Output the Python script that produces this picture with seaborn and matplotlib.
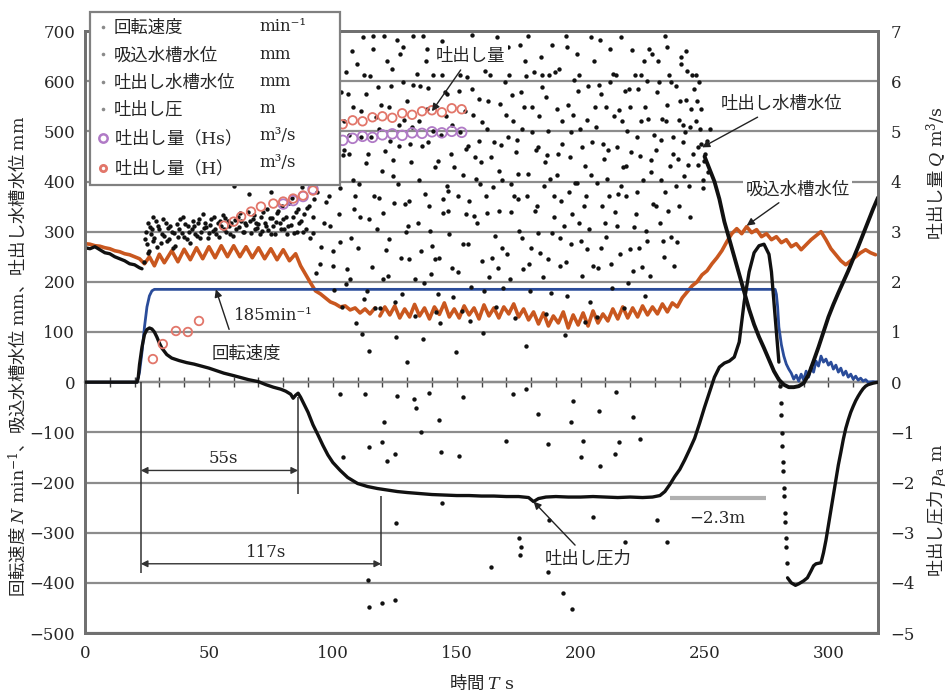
import matplotlib
matplotlib.use("Agg")
import matplotlib.pyplot as plt
from matplotlib.lines import Line2D
import numpy as np
import seaborn as sns

# ---------------------------------------------------------------- data
time_ticks = [0, 50, 100, 150, 200, 250, 300]
left_ticks = list(range(-500, 701, 100))
right_ticks = list(range(-5, 8))

# pump rotation speed N [min^-1]
speed_t = [0, 10, 21, 22, 23, 24, 25, 26, 27, 28,
           60, 120, 180, 240, 278.5,
           279, 279.5, 280, 281, 282, 283, 284, 285,
           286, 287, 288, 289, 290, 291, 292, 293, 294, 295,
           296, 297, 298, 299, 300, 301, 302, 303, 304, 305,
           306, 307, 308, 309, 310, 311, 312, 313, 314, 315,
           316, 318, 320]
speed_rpm = [0, 0, 0, 20, 60, 110, 150, 172, 182, 185,
             185, 185, 185, 185, 185,
             175, 150, 110, 75, 52, 36, 26, 18,
             6, 14, 2, 16, 4, 22, 10, 30, 20, 42,
             32, 52, 40, 46, 34, 40, 26, 34, 20, 28,
             14, 22, 10, 16, 6, 12, 4, 8, 2, 5,
             0, 1, 0]

# suction tank water level [mm]
suction_t_early = [0, 2, 4, 6, 8, 10, 12, 14, 16, 18, 20, 22,
                   24, 26, 28, 30, 32,
                   35, 37.5, 40, 42.5, 45, 47.5, 50, 52.5, 55, 57.5, 60,
                   62.5, 65, 67.5, 70, 72.5, 75, 77.5, 80, 82.5, 85,
                   87, 89, 91, 93, 95, 97, 99, 101, 103, 105, 107, 109,
                   111, 113, 115, 117]
suction_early = [276, 275, 272, 271, 268, 266, 262, 260, 256, 254, 250, 246,
                 236, 250, 232, 255, 238,
                 262, 240, 265, 244, 268, 246, 270, 248, 272, 250, 272,
                 250, 270, 248, 268, 246, 266, 244, 264, 242, 256,
                 232, 215, 198, 182, 176, 168, 160, 156, 150, 152, 144, 148,
                 138, 146, 136, 148]
suction_t_late = np.arange(119, 320, 2)
suction_late = [132, 150, 134, 152, 128, 146, 130, 155, 132, 148,
                126, 150, 135, 158, 130, 146, 128, 152, 134, 148,
                126, 154, 132, 148, 128, 150, 136, 156, 130, 146,
                124, 140, 116, 138, 112, 132, 118, 140, 108, 134,
                114, 138, 112, 142, 118, 136, 122, 146, 126, 150,
                128, 148, 130, 152, 134, 150, 136, 156, 140, 158,
                150, 168, 180, 192, 200, 214, 222, 236, 248, 262,
                280, 296, 306, 296, 310, 298, 304, 290, 296, 284,
                290, 278, 284, 270, 276, 264, 274, 284, 292, 300,
                284, 266, 254, 242, 234, 242, 250, 258, 264, 258,
                254]

# discharge tank water level [mm]
level_start_t = [0, 2, 4, 6, 8, 10, 12, 14, 16, 18, 20, 22, 23]
level_start = [268, 266, 270, 264, 258, 256, 250, 246, 242, 236, 234, 228, 226]

level_band_t = [24, 24.6, 25, 25.6, 26, 26.6, 27, 27.6, 28, 29, 29.6,
                31, 31.6, 33, 33.6, 35, 35.6, 37, 37.6, 39, 39.6,
                41, 41.6, 43, 43.6, 45, 45.6, 47, 47.6, 49, 49.6,
                51, 51.6, 53, 53.6, 55, 55.6, 57, 57.6, 59, 59.6,
                61, 61.6, 63, 63.6, 65, 65.6, 67, 67.6, 69, 69.6,
                71, 71.6, 73, 73.6, 75, 75.6, 77, 77.6, 79, 79.6,
                81, 81.6, 83, 83.6, 85, 85.6, 87, 87.6, 89, 89.6,
                60, 66, 72, 78, 84, 88, 75]
level_band = [240, 300, 275, 318, 262, 296, 305, 330, 288, 270, 312,
              295, 325, 282, 308, 300, 268, 316, 290, 298, 330,
              285, 312, 305, 322, 292, 318, 300, 336, 310, 288,
              326, 302, 296, 318, 312, 334, 300, 322, 318, 292,
              306, 330, 322, 300, 314, 340, 298, 326, 318, 308,
              330, 302, 312, 346, 296, 328, 320, 338, 306, 352,
              330, 296, 314, 368, 340, 300, 322, 390, 305, 348,
              392, 375, 410, 430, 418, 445, 380]
level_band2_t = [24.3, 25.3, 26.3, 27.3, 28.5,
                 30, 30.5, 32, 32.5, 34,
                 34.5, 36, 36.5, 38, 38.5,
                 40, 40.5, 42, 42.5, 44,
                 44.5, 46, 46.5, 48, 48.5,
                 50, 50.5, 52, 52.5, 54,
                 54.5, 56, 56.5, 58, 58.5,
                 60.5, 62, 62.5, 64, 64.5,
                 66.5, 68, 68.5, 70, 70.5,
                 72, 72.5, 74, 74.5, 76,
                 76.5, 78, 78.5, 80, 80.5,
                 82, 82.5, 84, 84.5, 86,
                 86.5, 88, 88.5]
level_band2 = [285, 258, 310, 282, 322,
               305, 278, 292, 318, 286,
               312, 298, 272, 306, 325,
               290, 316, 300, 278, 312,
               296, 326, 288, 308, 318,
               298, 314, 330, 306, 290,
               322, 305, 328, 312, 296,
               324, 310, 338, 300, 318,
               322, 334, 306, 316, 296,
               340, 318, 304, 328, 312,
               296, 342, 318, 326, 306,
               312, 358, 330, 298, 345,
               318, 300, 336]

level_cloud_t = [
    90.4, 91.2, 92.1, 92.9, 93.6, 90.8, 91.9, 93.2,
    94.3, 95.1, 95.8, 96.6, 97.4, 94.9, 96.1, 97.8,
    98.2, 99.0, 99.7, 100.5, 101.3, 98.7, 100.1, 101.8,
    102.4, 103.1, 103.9, 104.6, 105.5, 102.9, 104.2, 105.9,
    106.1, 106.9, 107.6, 108.4, 109.3, 106.5, 108.0, 109.7,
    110.3, 111.2, 111.9, 112.7, 113.5, 110.8, 112.2, 113.9,
    114.2, 115.0, 115.8, 116.5, 117.4, 114.7, 116.1, 117.8,
    118.4, 119.1, 119.9, 120.7, 121.6, 118.8, 120.3, 121.9,
    122.2, 123.0, 123.8, 124.5, 125.4, 122.7, 124.1, 125.8,
    126.3, 127.1, 127.8, 128.6, 129.5, 126.8, 128.2, 129.8,
    130.1, 130.9, 131.7, 132.5, 133.3, 130.6, 132.0, 133.8,
    134.4, 135.2, 135.9, 136.7, 137.5, 134.8, 136.3, 137.9,
    138.2, 139.0, 139.8, 140.6, 141.4, 138.6, 140.1, 141.8,
    142.3, 143.1, 143.9, 144.6, 145.5, 142.8, 144.2, 145.9,
    146.1, 146.9, 147.7, 148.5, 149.3, 146.6, 148.0, 149.7,
    150.4, 151.2, 151.9, 152.7, 153.6, 150.9, 152.3, 153.9,
    154.2, 155.0, 155.8, 156.5, 157.4, 154.7, 156.1, 157.8,
    158.3, 159.1, 159.8, 160.6, 161.5, 158.8, 160.2, 161.9,
    162.1, 162.9, 163.7, 164.5, 165.3, 162.6, 164.0, 165.8,
    166.4, 167.2, 167.9, 168.7, 169.5, 166.9, 168.3, 169.9,
    170.2, 171.0, 171.8, 172.6, 173.4, 170.7, 172.1, 173.8,
    174.3, 175.1, 175.9, 176.6, 177.5, 174.8, 176.2, 177.9,
    178.1, 178.9, 179.7, 180.5, 181.4, 178.6, 180.1, 181.8,
    182.4, 183.2, 183.9, 184.7, 185.6, 182.8, 184.3, 185.9,
    186.2, 187.0, 187.8, 188.5, 189.4, 186.7, 188.1, 189.8,
    190.3, 191.1, 191.8, 192.6, 193.5, 190.8, 192.2, 193.9,
    194.1, 194.9, 195.7, 196.5, 197.3, 194.6, 196.0, 197.8,
    198.4, 199.2, 199.9, 200.7, 201.6, 198.9, 200.3, 201.9,
    202.2, 203.0, 203.8, 204.5, 205.4, 202.7, 204.1, 205.8,
    206.3, 207.1, 207.8, 208.6, 209.5, 206.8, 208.2, 209.8,
    210.1, 210.9, 211.7, 212.5, 213.3, 210.6, 212.0, 213.8,
    214.4, 215.2, 215.9, 216.7, 217.5, 214.8, 216.3, 217.9,
    218.2, 219.0, 219.8, 220.6, 221.4, 218.6, 220.1, 221.8,
    222.3, 223.1, 223.9, 224.6, 225.5, 222.8, 224.2, 225.9,
    226.1, 226.9, 227.7, 228.5, 229.3, 226.6, 228.0, 229.7,
    230.4, 231.2, 231.9, 232.7, 233.6, 230.9, 232.3, 233.9,
    234.2, 235.0, 235.8, 236.5, 237.4, 234.7, 236.1, 237.8,
    238.3, 239.1, 239.8, 240.6, 241.5, 238.8, 240.2, 241.9,
    242.1, 242.9, 243.7, 244.5, 245.3, 242.6, 244.0, 245.8,
    246.4, 247.2, 247.9, 248.7, 249.5, 246.9, 248.3, 249.9,
    250.2, 251.0, 251.6, 252.4]
level_cloud = [
    352, 410, 298, 462, 380, 505, 330, 425,
    520, 270, 445, 610, 360, 236, 488, 398,
    655, 312, 548, 184, 430, 596, 262, 472,
    700, 388, 150, 520, 618, 280, 452, 225,
    575, 205, 660, 345, 118, 492, 402, 635,
    268, 540, 96, 612, 436, 330, 688, 182,
    455, 610, 230, 372, 528, 62, 665, 305,
    588, 148, 420, 690, 264, 505, 338, 640,
    212, 480, 625, 358, 90, 548, 410, 682,
    395, 655, 176, 522, 300, 470, 598, 40,
    560, 245, 438, 690, 132, 362, 508, 615,
    318, 590, 470, 198, 640, 402, 86, 545,
    665, 352, 215, 500, 428, 586, 272, 140,
    440, 118, 612, 338, 530, 248, 680, 392,
    575, 296, 455, 170, 640, 382, 512, 60,
    220, 498, 660, 412, 335, 580, 142, 465,
    608, 362, 190, 532, 448, 276, 692, 405,
    318, 565, 438, 98, 620, 480, 242, 372,
    505, 210, 655, 390, 292, 560, 448, 150,
    688, 342, 472, 188, 598, 420, 268, 532,
    255, 612, 395, 520, 128, 668, 340, 458,
    482, 302, 578, 225, 640, 365, 505, 72,
    610, 415, 182, 548, 342, 690, 268, 462,
    352, 530, 648, 210, 438, 298, 588, 135,
    568, 245, 405, 672, 330, 500, 178, 618,
    412, 625, 288, 520, 95, 455, 362, 690,
    240, 552, 448, 335, 602, 172, 498, 398,
    655, 318, 505, 212, 430, 580, 282, 120,
    372, 590, 160, 478, 640, 265, 412, 548,
    508, 228, 682, 352, 445, 130, 575, 318,
    290, 462, 598, 188, 530, 405, 665, 340,
    612, 375, 255, 520, 148, 468, 392, 580,
    430, 198, 548, 662, 310, 500, 265, 612,
    335, 585, 450, 230, 640, 380, 520, 172,
    548, 282, 665, 418, 355, 600, 212, 492,
    462, 640, 318, 525, 250, 578, 402, 690,
    380, 552, 612, 290, 488, 668, 430, 232,
    590, 445, 352, 635, 512, 280, 560, 410,
    498, 620, 392, 545, 455, 660, 330, 585,
    520, 432, 598, 475, 388, 560, 505, 440,
    455, 480, 418, 505]
level_cloud2_t = [
    90.9, 91.6, 92.5, 93.4, 94.6, 95.4, 96.3, 97.1,
    98.5, 99.4, 100.2, 101.0, 102.6, 103.5, 104.4, 105.2,
    106.7, 107.3, 108.2, 109.0, 110.6, 111.5, 112.4, 113.2,
    114.5, 115.4, 116.3, 117.1, 118.6, 119.5, 120.4, 121.2,
    122.5, 123.4, 124.3, 125.1, 126.6, 127.5, 128.4, 129.2,
    130.4, 131.3, 132.2, 133.0, 134.6, 135.5, 136.4, 137.2,
    138.5, 139.4, 140.3, 141.1, 142.6, 143.5, 144.4, 145.2,
    146.4, 147.3, 148.2, 149.0, 150.6, 151.5, 152.4, 153.2,
    154.5, 155.4, 156.3, 157.1, 158.6, 159.5, 160.4, 161.2,
    162.4, 163.3, 164.2, 165.0, 166.6, 167.5, 168.4, 169.2,
    170.5, 171.4, 172.3, 173.1, 174.6, 175.5, 176.4, 177.2,
    178.4, 179.3, 180.2, 181.0, 182.6, 183.5, 184.4, 185.2,
    186.5, 187.4, 188.3, 189.1, 190.6, 191.5, 192.4, 193.2,
    194.4, 195.3, 196.2, 197.0, 198.6, 199.5, 200.4, 201.2,
    202.5, 203.4, 204.3, 205.1, 206.6, 207.5, 208.4, 209.2,
    210.4, 211.3, 212.2, 213.0, 214.6, 215.5, 216.4, 217.2,
    218.5, 219.4, 220.3, 221.1, 222.6, 223.5, 224.4, 225.2,
    226.4, 227.3, 228.2, 229.0, 230.6, 231.5, 232.4, 233.2,
    234.5, 235.4, 236.3, 237.1, 238.6, 239.5, 240.4, 241.2,
    242.4, 243.3, 244.2, 245.0, 246.6, 247.5, 248.4, 249.2]
level_cloud2 = [
    288, 442, 365, 218, 402, 575, 318, 468,
    372, 505, 232, 688, 335, 578, 462, 195,
    455, 288, 548, 372, 395, 488, 165, 575,
    325, 488, 690, 148, 368, 552, 205, 460,
    285, 590, 442, 160, 512, 248, 668, 355,
    312, 475, 592, 205, 520, 262, 690, 375,
    478, 302, 612, 245, 175, 492, 365, 578,
    342, 668, 228, 428, 372, 612, 275, 540,
    470, 122, 585, 332, 662, 395, 518, 182,
    338, 612, 248, 478, 228, 555, 402, 642,
    488, 205, 572, 372, 415, 672, 288, 548,
    372, 235, 498, 618, 468, 258, 612, 392,
    452, 612, 298, 372, 545, 232, 475, 312,
    668, 380, 275, 532, 398, 612, 468, 352,
    522, 305, 688, 232, 398, 592, 268, 475,
    548, 372, 235, 615, 312, 542, 688, 428,
    372, 585, 458, 222, 488, 268, 612, 402,
    302, 525, 442, 655, 352, 598, 482, 282,
    520, 342, 598, 455, 392, 522, 648, 478,
    562, 432, 508, 612, 612, 468, 545, 402]

level_end_t = [250, 252, 254, 256, 258, 260, 262, 264, 266, 268, 270, 272,
               274, 276, 278, 280, 282, 284, 286, 288, 290, 292, 294, 296,
               298, 300, 302, 304, 306, 308, 310, 312, 314, 316, 318, 320]
level_end = [450, 425, 400, 365, 320, 285, 250, 215, 180, 145, 115, 90,
             68, 45, 22, 5, -5, -10, -10, -8, -2, 15, 42, 70,
             100, 130, 155, 178, 200, 222, 246, 270, 295, 320, 345, 368]

# discharge pressure p_a [m]
pressure_t = [0, 10, 21, 21.5, 22, 23, 24, 25, 26, 27,
              28, 29, 30, 31, 33, 35, 38, 41, 44, 47,
              50, 53, 56, 60, 63, 66, 70, 73, 76, 79,
              81, 83, 84, 85, 86, 87, 88, 90, 92, 94,
              96, 98, 100, 103, 106, 110, 114, 118, 122, 126,
              130, 135, 140, 145, 150, 155, 160, 165, 170, 175,
              179, 181, 183, 186, 190, 195, 200, 205, 210, 215,
              220, 225, 229, 232, 234, 236, 238, 240, 242, 244,
              246, 248, 250, 252, 254, 256, 258, 260, 262, 264,
              266, 268, 270, 272, 274, 276, 277, 278, 279, 280]
pressure_m = [0, 0, 0, 0.1, 0.35, 0.7, 0.95, 1.05, 1.08, 1.06,
              1.0, 0.9, 0.78, 0.68, 0.55, 0.48, 0.43, 0.39, 0.36, 0.32,
              0.28, 0.23, 0.18, 0.13, 0.09, 0.05, 0.01, -0.05, -0.10, -0.14,
              -0.18, -0.24, -0.32, -0.26, -0.22, -0.30, -0.40, -0.60, -0.85, -1.05,
              -1.26, -1.45, -1.60, -1.76, -1.90, -2.02, -2.08, -2.12, -2.15, -2.18,
              -2.20, -2.22, -2.24, -2.25, -2.26, -2.26, -2.27, -2.27, -2.28, -2.28,
              -2.30, -2.38, -2.32, -2.29, -2.28, -2.29, -2.29, -2.28, -2.29, -2.30,
              -2.29, -2.30, -2.29, -2.26, -2.18, -2.04, -1.88, -1.74, -1.55, -1.34,
              -1.12, -0.82, -0.50, -0.20, 0.10, 0.30, 0.38, 0.42, 0.50, 0.80,
              1.60, 2.20, 2.58, 2.72, 2.75, 2.55, 2.20, 1.60, 1.00, 0.40]
pressure_drop_t = [280.5, 280.7, 280.9, 281.1, 281.3, 281.5, 281.7,
                   281.9, 282.1, 282.3, 282.5, 282.7, 282.9, 283.1]
pressure_drop_m = [-0.08, -0.42, -0.66, -1.02, -1.28, -1.6, -1.78,
                   -2.1, -2.26, -2.6, -2.78, -3.1, -3.28, -3.6]
pressure_rec_t = [283.5, 285, 286.7, 288, 290, 291.5, 293, 294, 295, 297,
                  298, 299, 300, 301, 302, 303, 304, 305, 306, 307,
                  308, 309, 310, 311, 312, 313, 314, 315, 316, 318, 320]
pressure_rec_m = [-3.9, -4.0, -4.05, -4.02, -3.96, -3.9, -3.76, -3.66, -3.62, -3.6,
                  -3.4, -3.15, -2.85, -2.55, -2.25, -1.95, -1.65, -1.4, -1.14, -0.92,
                  -0.75, -0.6, -0.48, -0.37, -0.28, -0.2, -0.13, -0.08, -0.05, -0.02,
                  0.0]
pressure_spike_t = [103, 104, 113, 114, 114.5, 114.5, 120, 120.6, 122, 125,
                    125, 125.4, 126, 132.8, 133.4, 135.5, 138.9, 143, 143.5, 144.1,
                    150.8, 152.4, 163.7, 169.8, 172.6, 175, 175.4, 175.8, 177.8, 182.7,
                    186.7, 187, 187.4, 192.7, 196, 196.4, 196.8, 200, 200.8, 205,
                    207.3, 207.7, 214, 214.4, 215.3, 218, 221, 224, 231, 235, 120]
pressure_spike_m = [-0.24, -1.50, -0.24, -3.94, -1.30, -4.48, -1.20, -0.80, -1.58, -1.44,
                    -4.34, -2.80, -0.28, -0.34, -0.52, -1.00, -0.22, -0.76, -1.40, -2.40,
                    -1.48, -0.30, -3.68, -1.18, -0.24, -3.10, -3.44, -3.28, -0.14, -0.64,
                    -3.78, -1.24, -2.74, -4.20, -0.80, -4.52, -0.38, -1.50, -1.18, -2.68,
                    -0.58, -1.68, -1.44, -0.20, -1.20, -3.18, -0.70, -1.14, -2.74, -3.18, -4.40]

# discharge flow Q [m^3/s]
flow_h_t = [27.4, 31.4, 36.7, 41.5, 46,
            56, 60, 63, 67, 71, 76, 80, 84, 88, 92,
            96, 100, 104, 108, 112, 116, 120, 124, 128, 132, 136, 140, 144, 148, 152]
flow_h = [0.46, 0.76, 1.02, 1.0, 1.22,
          3.12, 3.2, 3.3, 3.4, 3.5, 3.56, 3.6, 3.66, 3.72, 3.82,
          4.6, 5.05, 5.14, 5.22, 5.2, 5.28, 5.3, 5.27, 5.36, 5.33, 5.4, 5.42, 5.38, 5.46, 5.44]
flow_hs_t = [80, 84, 88, 92, 96, 100, 104, 108, 112, 116,
             120, 124, 128, 132, 136, 140, 144, 148, 152]
flow_hs = [3.55, 3.62, 3.7, 3.85, 4.45, 4.7, 4.82, 4.86, 4.9, 4.88,
           4.93, 4.95, 4.92, 4.97, 4.96, 4.99, 4.97, 5.0, 4.98]

rated_speed = 185          # min^-1
settled_pressure = -2.3    # m
t_start, t_fall, t_settle = 22.5, 86, 119.5

legend_names = ["回転速度", "吸込水槽水位", "吐出し水槽水位", "吐出し圧",
                "吐出し量（$\\mathrm{Hs}$）", "吐出し量（$\\mathrm{H}$）"]
legend_units = ["min⁻¹", "mm", "mm", "m", "m³/s", "m³/s"]

# ---------------------------------------------------------------- style
sns.set_theme(style="white")
plt.rcParams["font.family"] = ["Noto Sans CJK JP", "DejaVu Sans"]
plt.rcParams["mathtext.fontset"] = "dejavuserif"
SERIF = "DejaVu Serif"
JP = 12.5

C_BLUE = "#2a4c9a"
C_ORANGE = "#c9571f"
C_BLACK = "#111111"
C_H = "#e2766a"
C_HS = "#b07ac6"
C_GRID = "#8c8c8c"

fig = plt.figure(figsize=(9.48, 6.97), dpi=100)
W, H = 948, 697
ax = fig.add_axes([85 / W, 1 - 633 / H, (878 - 85) / W, (633 - 31) / H])
ax.set_xlim(0, 320)
ax.set_ylim(-500, 700)
ax2 = ax.twinx()
ax2.set_ylim(-5, 7)

ax.set_yticks(left_ticks)
ax.set_yticklabels([f"{v}".replace("-", "−") for v in left_ticks],
                   fontfamily=SERIF, fontsize=12)
ax2.set_yticks(right_ticks)
ax2.set_yticklabels([f"{v}".replace("-", "−") for v in right_ticks],
                    fontfamily=SERIF, fontsize=12)
ax.set_xticks(time_ticks)
ax.set_xticklabels([str(v) for v in time_ticks], fontfamily=SERIF, fontsize=12)
ax.tick_params(axis="y", length=0, pad=7)
ax2.tick_params(axis="y", length=0, pad=9)
ax.tick_params(axis="x", direction="in", length=6, width=1.2, color="#666666", pad=9)
ax.grid(axis="y", color=C_GRID, lw=1.6)
ax.grid(axis="x", visible=False)
ax.set_axisbelow(True)
for a in (ax, ax2):
    for sp in a.spines.values():
        sp.set_color("#707070")
        sp.set_linewidth(2)

# zero line with 10 s ticks
zero_axis = ax.secondary_xaxis(500 / 1200)
zero_axis.set_xticks(list(range(0, 321, 10)))
zero_axis.tick_params(direction="inout", length=7, width=1, color="#444444",
                      labeltop=False, labelbottom=False)
for sp in zero_axis.spines.values():
    sp.set_color("#444444")
    sp.set_linewidth(1.6)

# ---------------------------------------------------------------- series
line_kw = dict(estimator=None, sort=False, legend=False)
sns.lineplot(x=suction_t_early, y=suction_early, ax=ax, color=C_ORANGE, lw=2.6, zorder=3, **line_kw)
sns.lineplot(x=suction_t_late, y=suction_late, ax=ax, color=C_ORANGE, lw=2.6, zorder=3, **line_kw)
sns.lineplot(x=speed_t, y=speed_rpm, ax=ax, color=C_BLUE, lw=2.0, zorder=4, **line_kw)

sns.lineplot(x=level_start_t, y=level_start, ax=ax, color=C_BLACK, lw=2.4, zorder=5, **line_kw)
sns.lineplot(x=level_end_t, y=level_end, ax=ax, color=C_BLACK, lw=2.8, zorder=5, **line_kw)
dot_kw = dict(color=C_BLACK, s=10, linewidth=0, legend=False, zorder=5)
sns.scatterplot(x=level_band_t, y=level_band, ax=ax, **dot_kw)
sns.scatterplot(x=level_band2_t, y=level_band2, ax=ax, **dot_kw)
sns.scatterplot(x=level_cloud_t, y=level_cloud, ax=ax, **dot_kw)
sns.scatterplot(x=level_cloud2_t, y=level_cloud2, ax=ax, **dot_kw)

sns.lineplot(x=pressure_t, y=pressure_m, ax=ax2, color=C_BLACK, lw=2.4, zorder=5, **line_kw)
sns.lineplot(x=pressure_rec_t, y=pressure_rec_m, ax=ax2, color=C_BLACK, lw=2.4, zorder=5, **line_kw)
sns.scatterplot(x=pressure_drop_t, y=pressure_drop_m, ax=ax2, **dot_kw)
sns.scatterplot(x=pressure_spike_t, y=pressure_spike_m, ax=ax2, **dot_kw)

sns.scatterplot(x=flow_hs_t, y=flow_hs, ax=ax2, s=48, marker="o", facecolors="none",
                edgecolor=C_HS, linewidth=1.3, legend=False, zorder=6)
sns.scatterplot(x=flow_h_t, y=flow_h, ax=ax2, s=38, marker="o", facecolors="none",
                edgecolor=C_H, linewidth=1.3, legend=False, zorder=6)

# settled pressure level
ax2.hlines(settled_pressure, 236, 275, color="#b0b0b0", lw=3, zorder=2)
ax2.text(255, -2.72, f"{settled_pressure}m".replace("-", "−"), fontfamily=SERIF,
         fontsize=12, ha="center", va="center")

# ---------------------------------------------------------------- annotations
arrow = dict(arrowstyle="-|>", color="#222222", lw=1.0, mutation_scale=11,
             shrinkA=2, shrinkB=0)
box = dict(boxstyle="square,pad=0.15", fc="white", ec="none")
ax2.annotate("吐出し量", xy=(140, 5.4), xytext=(155.5, 6.5), ha="center", va="center",
             fontsize=JP, bbox=box, arrowprops=arrow, zorder=8)
ax.annotate("吐出し水槽水位", xy=(249, 468), xytext=(281, 554), ha="center", va="center",
            fontsize=JP, bbox=box, arrowprops=arrow, zorder=8)
ax.annotate("吸込水槽水位", xy=(267, 312), xytext=(287.5, 384), ha="center", va="center",
            fontsize=JP, bbox=box, arrowprops=arrow, zorder=8)
ax2.annotate("吐出し圧力", xy=(181, -2.38), xytext=(203, -3.52), ha="center", va="center",
             fontsize=JP, bbox=box, arrowprops=arrow, zorder=8)
ax.annotate("", xy=(52.8, rated_speed), xytext=(58.5, 100), arrowprops=arrow, zorder=8)
ax.text(60.3, 133, f"{rated_speed}min⁻¹", fontfamily=SERIF, fontsize=12,
        ha="left", va="center", zorder=8)
ax.text(51, 56, "回転速度", fontsize=JP, ha="left", va="center", zorder=8)

# time spans after start-up
guide = dict(color="#333333", lw=1.1, zorder=7)
ax.vlines(t_start, -380, 0, **guide)
ax.vlines(t_fall, -222, -30, **guide)
ax.vlines(t_settle, -366, -226, **guide)
span = dict(arrowstyle="<|-|>", color="#333333", lw=1.0, mutation_scale=10,
            shrinkA=0, shrinkB=0)
ax.annotate("", xy=(t_fall, -176), xytext=(t_start, -176), arrowprops=span, zorder=7)
ax.annotate("", xy=(t_settle, -362), xytext=(t_start, -362), arrowprops=span, zorder=7)
ax.text(56, -152, "55s", fontfamily=SERIF, fontsize=12, ha="center", va="center")
ax.text(73, -340, "117s", fontfamily=SERIF, fontsize=12, ha="center", va="center")

# ---------------------------------------------------------------- labels
ax.set_xlabel("時間 $T\\ \\mathrm{s}$", fontsize=JP, labelpad=8)
ax.set_ylabel("")
ax2.set_ylabel("")
fig.text(18 / W, 1 - 356 / H,
         "回転速度 $N\\ \\mathrm{min^{-1}}$、吸込水槽水位 $\\mathrm{mm}$、吐出し水槽水位 $\\mathrm{mm}$",
         rotation=90, ha="center", va="center", fontsize=JP)
fig.text(937 / W, 1 - 173 / H, "吐出し量 $Q\\ \\mathrm{m^3/s}$",
         rotation=90, ha="center", va="center", fontsize=JP)
fig.text(937 / W, 1 - 510 / H, "吐出し圧力 $p_\\mathrm{a}\\ \\mathrm{m}$",
         rotation=90, ha="center", va="center", fontsize=JP)

# ---------------------------------------------------------------- legend
# second column reserves room for the unit of each series
dot = dict(ls="none", marker="o", ms=2.6, mew=0, color="#8a8a8a")
handles = [Line2D([], [], **dot) for _ in range(4)]
handles.append(Line2D([], [], ls="none", marker="o", ms=6, mfc="none", mec=C_HS, mew=1.8))
handles.append(Line2D([], [], ls="none", marker="o", ms=4.5, mfc="none", mec=C_H, mew=2.0))
blank = [Line2D([], [], ls="none") for _ in legend_units]
unit_slots = ["\u3000\u3000\u3000\u3000 "] * len(legend_units)
leg = fig.legend(handles + blank, legend_names + unit_slots, ncol=2,
                 loc="upper left", bbox_to_anchor=(90 / W, 1 - 12 / H),
                 frameon=True, fancybox=False, edgecolor="#808080", framealpha=1,
                 fontsize=JP, handlelength=0.6, handletextpad=0.35,
                 columnspacing=0.45, labelspacing=0.53, borderpad=0.42,
                 borderaxespad=0)
leg.get_frame().set_linewidth(1.6)

fig.canvas.draw()
renderer = fig.canvas.get_renderer()
for slot, unit in zip(leg.get_texts()[len(legend_names):], legend_units):
    bb = slot.get_window_extent(renderer)
    fig.text(bb.x0 / W, (bb.y0 + bb.y1) / 2 / H + 0.002, unit, fontfamily=SERIF,
             fontsize=12, ha="left", va="center", zorder=10)

fig.savefig("out.png", dpi=100)
